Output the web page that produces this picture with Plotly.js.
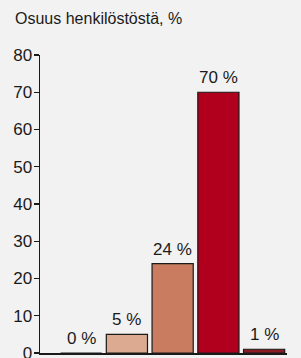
<!DOCTYPE html>
<html>
<head>
<meta charset="utf-8">
<script src="https://cdn.plot.ly/plotly-3.0.1.min.js"></script>
<style>html,body{margin:0;padding:0;background:#f2f2f2;}#chart{width:301px;height:358px;}</style>
</head>
<body>
<div id="chart"></div>
<script>
var categories = ["A", "B", "C", "D", "E"];
var values = [0, 5, 24, 70, 1];
var labels = ["0 %", "5 %", "24 %", "70 %", "1 %"];
var colors = ["#e8c9b5", "#dcaa90", "#c97c5f", "#b0001e", "#8b1a22"];
var yTicks = [0, 10, 20, 30, 40, 50, 60, 70, 80];

var font = "Liberation Sans, Arial, Helvetica, sans-serif";

var trace = {
  type: "bar",
  x: categories,
  y: values,
  marker: {color: colors, line: {color: "#1a1a1a", width: 1.2}},
  hoverinfo: "none"
};

var annotations = categories.map(function (c, i) {
  return {
    x: c, y: values[i], xref: "x", yref: "y",
    text: labels[i], showarrow: false,
    yanchor: "bottom", xanchor: "center", yshift: 3,
    font: {family: font, size: 17, color: "#1a1a1a"}
  };
});

var layout = {
  width: 301, height: 358,
  margin: {l: 40, r: 14, t: 55, b: 5},
  paper_bgcolor: "#f2f2f2",
  plot_bgcolor: "#f2f2f2",
  showlegend: false,
  bargap: 0.1,
  title: {
    text: "Osuus henkilöstöstä, %",
    x: 0, xref: "container", xanchor: "left",
    y: 1, yref: "container", yanchor: "top",
    pad: {t: 13, l: 15},
    font: {family: font, size: 16, color: "#1a1a1a"}
  },
  xaxis: {
    type: "category",
    range: [-0.9, 4.5],
    showticklabels: false,
    ticks: "",
    showgrid: false,
    zeroline: false,
    showline: true,
    linecolor: "#1a1a1a",
    linewidth: 1.5,
    fixedrange: true
  },
  yaxis: {
    range: [0, 80],
    tickvals: yTicks,
    ticktext: yTicks.map(String),
    ticks: "outside",
    ticklen: 5,
    tickwidth: 1.2,
    tickcolor: "#1a1a1a",
    showgrid: false,
    zeroline: false,
    showline: true,
    linecolor: "#1a1a1a",
    linewidth: 1.5,
    tickfont: {family: font, size: 17, color: "#1a1a1a"},
    ticklabelstandoff: -2,
    ticklabeloverflow: "allow",
    fixedrange: true
  },
  annotations: annotations
};

Plotly.newPlot("chart", [trace], layout, {displayModeBar: false, staticPlot: true});
</script>
</body>
</html>
